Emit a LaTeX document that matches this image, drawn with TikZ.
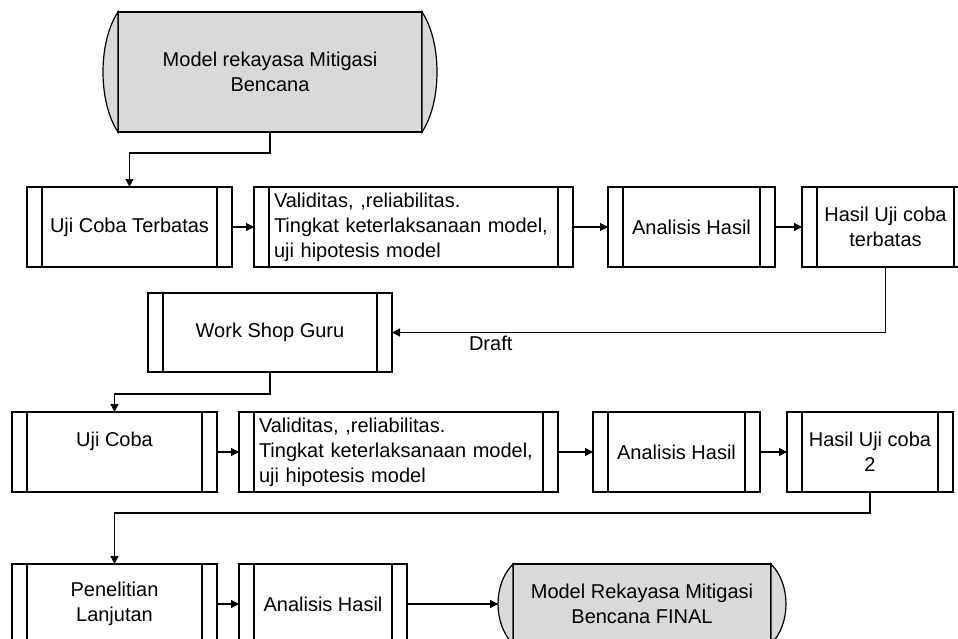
\documentclass[tikz,border=0pt]{standalone}
\usepackage{fontspec}
\setmainfont{Liberation Sans}
\usetikzlibrary{arrows.meta,positioning}
\definecolor{abu}{RGB}{217,217,217}
\tikzset{
>={Triangle[length=4pt,width=4pt]},
proses node/.style={draw,rectangle,minimum height=40pt,inner sep=0pt,outer sep=0pt,align=center,
  path picture={\draw ([xshift=7.5pt]path picture bounding box.north west) -- ([xshift=7.5pt]path picture bounding box.south west)
    ([xshift=-7.5pt]path picture bounding box.north east) -- ([xshift=-7.5pt]path picture bounding box.south east);}},
terminal node/.style={draw,fill=abu,rectangle,inner sep=0pt,outer sep=0pt,align=center},
panah/.style={->,line width=0.6pt},
ujung/.style={draw,fill=abu,line width=0.6pt}}

\begin{document}
\begin{tikzpicture}[line width=0.6pt,font=\fontsize{10pt}{12.5pt}\selectfont]

\useasboundingbox (0,0) rectangle (479pt,-319pt);
\clip (0,0) rectangle (479pt,-319pt);

% awal
\node (m1) [terminal node,minimum width=152pt,minimum height=60pt] at (135pt,-36pt) {Model rekayasa Mitigasi\\Bencana};
\draw[ujung] (m1.north west) .. controls +(-10pt,-15pt) and +(-10pt,15pt) .. (m1.south west) -- cycle;
\draw[ujung] (m1.north east) .. controls +(10pt,-15pt) and +(10pt,15pt) .. (m1.south east) -- cycle;

% uji coba terbatas
\node (u1) [proses node,minimum width=102.5pt] at (64.75pt,-113.5pt) {Uji Coba Terbatas};
\node (v1) [proses node,minimum width=159.5pt,text width=139.5pt,align=left,right=11pt of u1] {Validitas, ,reliabilitas.\\Tingkat keterlaksanaan model,\\uji hipotesis model};
\node (a1) [proses node,minimum width=83.5pt,right=17.5pt of v1] {Analisis Hasil};
\node (h1) [proses node,minimum width=83.5pt,right=13.5pt of a1] {Hasil Uji coba\\terbatas};

\node (ws) [proses node,minimum width=122pt,minimum height=39.5pt] at (135pt,-166.25pt) {Work Shop Guru};

% uji coba
\node (u2) [proses node,minimum width=102.5pt] at (57.25pt,-226pt) {Uji Coba\\\mbox{}};
\node (v2) [proses node,minimum width=159.5pt,text width=139.5pt,align=left,right=11pt of u2] {Validitas, ,reliabilitas.\\Tingkat keterlaksanaan model,\\uji hipotesis model};
\node (a2) [proses node,minimum width=83.5pt,right=17.5pt of v2] {Analisis Hasil};
\node (h2) [proses node,minimum width=83pt,right=13.5pt of a2] {Hasil Uji coba\\2};

% lanjutan
\node (p3) [proses node,minimum width=102.5pt] at (57.25pt,-302pt) {Penelitian\\Lanjutan};
\node (a3) [proses node,minimum width=84pt,right=11pt of p3] {Analisis Hasil};
\node (fin) [terminal node,minimum width=129pt,minimum height=40pt,right=53pt of a3] {Model Rekayasa Mitigasi\\Bencana FINAL};
\draw[ujung] (fin.north west) .. controls +(-10pt,-10pt) and +(-10pt,10pt) .. (fin.south west) -- cycle;
\draw[ujung] (fin.north east) .. controls +(10pt,-10pt) and +(10pt,10pt) .. (fin.south east) -- cycle;

\draw[panah] (m1.south) -- ++(0,-10.5pt) -| (u1.north);
\path[panah] (u1) edge (v1);
\path[panah] (v1) edge (a1);
\path[panah] (a1) edge (h1);
\draw[panah] (h1.south) |- (ws.east) node[pos=0.9,below,inner sep=1.5pt] {Draft};

\draw[panah] (ws.south) -- ++(0,-11pt) -| (u2.north);
\path[panah] (u2) edge (v2);
\path[panah] (v2) edge (a2);
\path[panah] (a2) edge (h2);

\draw[panah] (h2.south) -- ++(0,-10.5pt) -| (p3.north);
\path[panah] (p3) edge (a3);
\path[panah] (a3) edge ([xshift=-7.5pt]fin.west);

\end{tikzpicture}
\end{document}
